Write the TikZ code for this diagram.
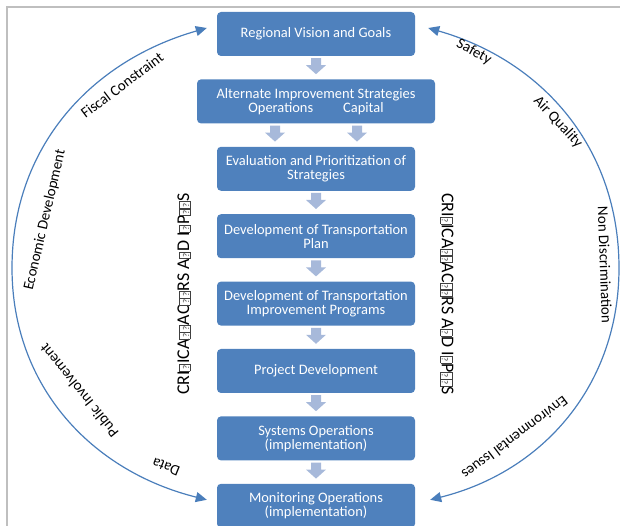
\documentclass[tikz,border=0pt]{standalone}
\usepackage{fontspec}
\setmainfont{Carlito}
\usetikzlibrary{arrows.meta, positioning, calc}
\definecolor{boxblue}{RGB}{79,129,189}
\definecolor{arcblue}{RGB}{74,126,187}
\definecolor{flowgrey}{RGB}{167,185,218}
\definecolor{framegrey}{RGB}{191,191,191}
% glyph that the original could not show
\newcommand{\nog}{{\setlength{\fboxsep}{1pt}\setlength{\fboxrule}{0.5pt}\color{black!75}\fbox{\rule{0pt}{9pt}\fontsize{9}{9}\selectfont ?}}}

\begin{document}
\begin{tikzpicture}[x=1bp, y=1bp,
    node distance=23bp,
    stage/.style={
        rectangle, fill=boxblue, rounded corners=4bp, text=white,
        minimum width=198bp, minimum height=44bp, inner sep=2bp,
        align=center, font=\fontsize{14.5}{14}\selectfont
    },
    factor/.style={font=\fontsize{15}{15}\selectfont, inner sep=0pt},
    sidecaption/.style={font=\fontsize{18}{18}\selectfont, inner sep=0pt},
    loopline/.style={arcblue, line width=1.2bp,
        {Triangle[length=11bp,width=10bp]}-{Triangle[length=11bp,width=10bp]}},
    downflow/.pic={\fill[flowgrey] (-5,-2) -- (5,-2) -- (5,-9) -- (10,-9) -- (0,-18) -- (-10,-9) -- (-5,-9) -- cycle;}
]
\useasboundingbox (0,0) rectangle (620,526);

% Frame
\draw[framegrey, line width=1.5bp] (7,0) -- (7,519) -- (620,519);

% Planning stages
\node[stage] (vision) at (316,492) {Regional Vision and Goals};
\node[stage, minimum width=238bp, below=of vision] (strategies) {Alternate Improvement Strategies\\Operations\hspace{30bp}Capital};
\node[stage, below=of strategies] (evaluation) {Evaluation and Prioritization of\\Strategies};
\node[stage, below=of evaluation] (plan) {Development of Transportation\\Plan};
\node[stage, below=of plan] (tip) {Development of Transportation\\Improvement Programs};
\node[stage, below=of tip] (project) {Project Development};
\node[stage, below=of project] (systems) {Systems Operations\\(implementation)};
\node[stage, below=of systems] (monitoring) {Monitoring Operations\\(implementation)};

% Flow arrows
\pic at (vision.south) {downflow};
\pic at ([xshift=-41bp]strategies.south) {downflow};
\pic at ([xshift=41bp]strategies.south) {downflow};
\foreach \s in {evaluation, plan, tip, project, systems}
    \pic at (\s.south) {downflow};

% Side captions
\node[sidecaption, rotate=90] (factorsleft) at (184,232) {CRI\nog ICA\nog\nog AC\nog\nog RS A\nog D I\nog P\nog\nog S};
\node[sidecaption, rotate=-90] (factorsright) at (447,232) {CRI\nog ICA\nog\nog AC\nog\nog RS A\nog D I\nog P\nog\nog S};

% Feedback loops
\coordinate (lefttop) at ($(vision.west)+(-10,6)$);
\coordinate (leftmid) at (12,258);
\coordinate (leftbot) at ($(monitoring.west)+(-10,6)$);
\coordinate (righttop) at ($(vision.east)+(13,6)$);
\coordinate (rightmid) at (619,258);
\coordinate (rightbot) at ($(monitoring.east)+(15,6)$);
\draw[loopline] (lefttop) to[out=196, in=90] (leftmid) to[out=270, in=166] (leftbot);
\draw[loopline] (righttop) to[out=-16, in=90] (rightmid) to[out=270, in=14] (rightbot);

% Loop labels
\node[factor, rotate=37] (fiscal) at (122,441) {Fiscal Constraint};
\node[factor, rotate=77] (economic) at (45,306) {Economic Development};
\node[factor, rotate=129] (public) at (79,135) {Public Involvement};
\node[factor, rotate=158] (data) at (166,59) {Data};
\node[factor, rotate=-28] (safety) at (474,474) {Safety};
\node[factor, rotate=-47] (air) at (558,404) {Air Quality};
\node[factor, rotate=-88] (nondisc) at (605,261) {Non Discrimination};
\node[factor, rotate=-143] (environ) at (515,88) {Environmental Issues};

\end{tikzpicture}
\end{document}
